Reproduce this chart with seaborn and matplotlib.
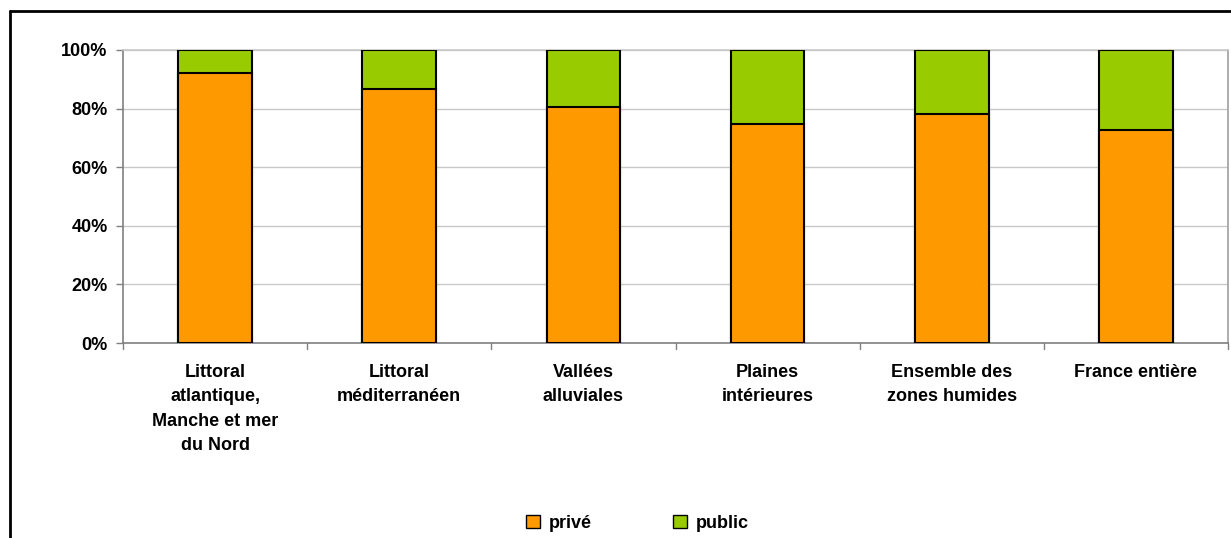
import pandas as pd
import matplotlib
matplotlib.use('Agg')
import matplotlib.pyplot as plt
import seaborn as sns
from matplotlib.lines import Line2D
from matplotlib.patches import Patch

categories = ['Littoral\natlantique,\nManche et mer\ndu Nord',
              'Littoral\nméditerranéen',
              'Vallées\nalluviales',
              'Plaines\nintérieures',
              'Ensemble des\nzones humides',
              'France entière']
prive = [92.0, 86.7, 80.7, 74.7, 78.2, 72.8]
public = [100 - v for v in prive]

data = pd.DataFrame({'zone': categories, 'privé': prive, 'public': public})
data['total'] = data['privé'] + data['public']

sns.set_theme(style='white')
plt.rcParams['font.family'] = ['Liberation Sans', 'DejaVu Sans']
plt.rcParams['font.weight'] = 'bold'
plt.rcParams['text.color'] = 'black'

fig = plt.figure(figsize=(12.31, 5.38), dpi=100)
ax = fig.add_axes([123 / 1231, 1 - 343 / 538, 1105 / 1231, 293 / 538])

orange = '#FF9900'
green = '#99CC00'

sns.barplot(data=data, x='zone', y='total', color=green, width=0.4, saturation=1,
            edgecolor='black', linewidth=1.5, ax=ax, zorder=3)
sns.barplot(data=data, x='zone', y='privé', color=orange, width=0.4, saturation=1,
            edgecolor='black', linewidth=1.5, ax=ax, zorder=4)

ax.set_xlim(-0.5, len(categories) - 0.5)
ax.set_ylim(0, 100)
ax.set_yticks(range(0, 101, 20))
ax.set_yticklabels([f'{v}%' for v in range(0, 101, 20)], fontsize=13, fontweight='bold')
ax.yaxis.grid(True, color='#c8c8c8', linewidth=1, zorder=0)
ax.set_axisbelow(True)

ax.set_xticks(range(len(categories)))
ax.set_xticklabels(categories, fontsize=13, fontweight='bold', linespacing=1.58, va='top')
ax.tick_params(axis='x', length=0, pad=15, labelcolor='black')
# boundary ticks between categories
for b in [i - 0.5 for i in range(len(categories) + 1)]:
    ax.plot([b, b], [0, -2], color='#808080', linewidth=1, clip_on=False, zorder=5)
ax.tick_params(axis='y', left=True, length=5, color='#808080', width=1, pad=6, labelcolor='black')

ax.set_xlabel('')
ax.set_ylabel('')
for side in ['top', 'bottom', 'left', 'right']:
    ax.spines[side].set_visible(True)
    ax.spines[side].set_color('#808080')
    ax.spines[side].set_linewidth(1.2)
ax.spines['top'].set_color('#c8c8c8')
ax.spines['right'].set_color('#a0a0a0')

handles = [Patch(facecolor=orange, edgecolor='black', label='privé'),
           Patch(facecolor=green, edgecolor='black', label='public')]
fig.legend(handles=handles, loc='center', bbox_to_anchor=(0.518, 1 - 523 / 538),
           ncol=2, frameon=False, fontsize=13, handlelength=0.75, handleheight=0.75,
           handletextpad=0.5, columnspacing=4.5, labelcolor='black')

# outer frame (partially cropped chart area)
fig.add_artist(Line2D([10 / 1231, 10 / 1231], [0, 1 - 11 / 538], color='black', linewidth=2))
fig.add_artist(Line2D([10 / 1231, 1], [1 - 11 / 538, 1 - 11 / 538], color='black', linewidth=2))

plt.savefig('out.png', dpi=100)
